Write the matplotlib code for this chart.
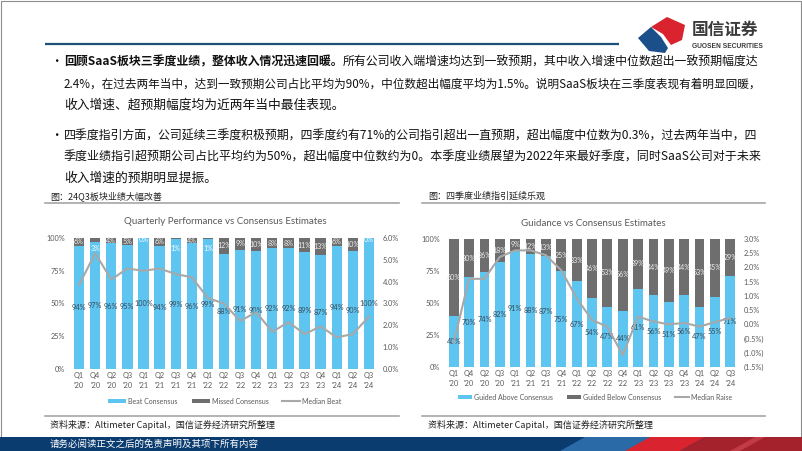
import numpy as np
import matplotlib
matplotlib.use("Agg")
import matplotlib.pyplot as plt
from matplotlib.patches import Rectangle, Polygon
from matplotlib.ticker import FuncFormatter

plt.rcParams["font.family"] = ["Lato", "DejaVu Sans"]
CJK = ["Noto Sans CJK SC", "DejaVu Sans"]

# ---- data ----
quarters = ["Q1\n'20", "Q4\n'20", "Q2\n'20", "Q3\n'20", "Q1\n'21", "Q2\n'21", "Q3\n'21",
            "Q4\n'21", "Q1\n'22", "Q2\n'22", "Q3\n'22", "Q4\n'22", "Q1\n'23", "Q2\n'23",
            "Q3\n'23", "Q4\n'23", "Q1\n'24", "Q2\n'24", "Q3\n'24"]
beat = [94, 97, 96, 95, 100, 94, 99, 96, 99, 88, 91, 90, 92, 92, 89, 87, 94, 90, 100]
missed = [6, 3, 4, 5, 0, 6, 1, 4, 1, 12, 9, 10, 8, 8, 11, 13, 6, 10, 0]
median_beat = [3.85, 5.3, 4.1, 4.6, 4.5, 4.6, 4.35, 4.2, 3.25, 3.0, 2.2, 2.6,
               1.7, 2.15, 1.6, 1.95, 1.45, 1.6, 2.4]

guided_above = [40, 70, 74, 82, 91, 88, 87, 75, 67, 54, 47, 44, 61, 56, 51, 56, 47, 55, 71]
guided_below = [60, 30, 26, 18, 9, 12, 13, 25, 33, 46, 53, 56, 39, 44, 49, 44, 53, 45, 29]
median_raise = [-0.65, 1.6, 1.6, 2.37, 2.6, 2.6, 2.43, 1.9, 0.92, 0.15, -0.08, -1.08,
                0.27, 0.1, 0.0, 0.05, -0.08, 0.08, 0.22]

para1 = [
    [("回顾SaaS板块三季度业绩，整体收入情况迅速回暖。", "bold"),
     ("所有公司收入端增速均达到一致预期，其中收入增速中位数超出一致预期幅度达", "normal")],
    [("2.4%，在过去两年当中，达到一致预期公司占比平均为90%，中位数超出幅度平均为1.5%。说明SaaS板块在三季度表现有着明显回暖，", "normal")],
    [("收入增速、超预期幅度均为近两年当中最佳表现。", "normal")],
]
para2 = [
    [("四季度指引方面，公司延续三季度积极预期，四季度约有71%的公司指引超出一直预期，超出幅度中位数为0.3%，过去两年当中，四", "normal")],
    [("季度业绩指引超预期公司占比平均约为50%，超出幅度中位数约为0。本季度业绩展望为2022年来最好季度，同时SaaS公司对于未来", "normal")],
    [("收入增速的预期明显提振。", "normal")],
]

BLUE = "#5EC4F0"
GREY = "#6E6E6E"
LINE = "#A8A8A8"
TXT = "#595959"
W, H = 802, 451

fig = plt.figure(figsize=(W / 100, H / 100), dpi=100)
bg = fig.add_axes([0, 0, 1, 1], zorder=0)
bg.set_xlim(0, W); bg.set_ylim(H, 0); bg.axis("off")
renderer = fig.canvas.get_renderer()

# slide frame, header rule and logo
bg.add_patch(Rectangle((0.5, 0.5), W - 1.5, H - 1, fill=False, ec="#8C8C8C", lw=0.8))
bg.plot([45, 619], [44, 44], color="#1F4E79", lw=1.6, solid_capstyle="butt")
bg.add_patch(Polygon([(651, 27), (667, 17), (685, 25), (682, 40), (671, 45), (663, 34)],
                     closed=True, fc="#D9232E", ec="none"))
bg.add_patch(Polygon([(638, 38), (651, 27), (661, 37), (668, 48), (665, 53), (649, 51)],
                     closed=True, fc="#1B4F8A", ec="none"))
bg.text(692, 30, "国信证券", family=CJK, fontsize=12, fontweight="bold", color="#3A3A3A",
        va="center", ha="left")
bg.text(692, 46, "GUOSEN SECURITIES", fontsize=4.8, fontweight="bold", color="#3A3A3A",
        va="center", ha="left", family=["Liberation Sans Narrow", "Liberation Sans", "DejaVu Sans"])


def put_line(y, parts, fit=None, fs=9.2, x0=64):
    arts, x = [], x0
    for s, w in parts:
        t = bg.text(x, y, s, family=CJK, fontsize=fs, fontweight=w, color="#111111",
                    va="center", ha="left")
        x += t.get_window_extent(renderer).width
        arts.append(t)
    if fit is not None and x - x0 > fit:
        for t in arts:
            t.remove()
        put_line(y, parts, None, fs * fit / (x - x0), x0)


for ys, para in [((62, 84, 105), para1), ((136, 157, 178), para2)]:
    bg.text(50, ys[0], "•", family=CJK, fontsize=9, va="center", ha="left", color="#111111")
    for k, (y, parts) in enumerate(zip(ys, para)):
        put_line(y, parts, fit=696 if k < 2 else None)

# captions, rules, sources
bg.text(50, 196, "图：24Q3板块业绩大幅改善", family=CJK, fontsize=6.5, color="#222222", va="center")
bg.text(428, 196, "图：四季度业绩指引延续乐观", family=CJK, fontsize=6.5, color="#222222", va="center")
for xa, xb in [(45, 399), (422, 765)]:
    bg.plot([xa, xb], [203, 203], color="#A6A6A6", lw=1.2)
    bg.plot([xa, xb], [416, 416], color="#A6A6A6", lw=1.2)
bg.text(50, 425, "资料来源：Altimeter Capital，国信证券经济研究所整理", family=CJK, fontsize=6.5,
        color="#222222", va="center")
bg.text(428, 425, "资料来源：Altimeter Capital，国信证券经济研究所整理", family=CJK, fontsize=6.5,
        color="#222222", va="center")

# footer band
bg.add_patch(Rectangle((0, 437), W, 14, fc="#0B3C6F", ec="none"))
bg.add_patch(Polygon([(560, 451), (585, 437), (660, 437), (635, 451)], fc="#2A6AA6", ec="none"))
bg.add_patch(Polygon([(625, 451), (650, 437), (705, 437), (680, 451)], fc="#D9232E", ec="none"))
bg.add_patch(Polygon([(680, 451), (705, 437), (W, 437), (W, 451)], fc="#A3222C", ec="none"))
bg.add_patch(Polygon([(730, 451), (755, 437), (765, 437), (740, 451)], fc="#C23A43", ec="none"))
bg.text(50, 444, "请务必阅读正文之后的免责声明及其项下所有内容", family=CJK, fontsize=6.8,
        color="white", va="center")

# chart titles
bg.text(225, 222, "Quarterly Performance vs Consensus Estimates", fontsize=7, color=TXT,
        ha="center", va="center")
bg.text(593, 223, "Guidance vs Consensus Estimates", fontsize=7, color=TXT,
        ha="center", va="center")


def pct(v, _):
    return f"{v:.0f}%"


def pct1(v, _):
    return f"({abs(v):.1f}%)" if v < -1e-9 else f"{abs(v):.1f}%"


def chart(rect, lo, hi, line, rlim, rstep, names, lg_x, lg_y, hl, cs):
    l, t, r, b = rect
    ax = fig.add_axes([l / W, 1 - b / H, (r - l) / W, (b - t) / H], zorder=2)
    x = np.arange(len(lo))
    b1 = ax.bar(x, lo, width=0.64, color=BLUE, zorder=2)
    b2 = ax.bar(x, hi, width=0.64, bottom=lo, color=GREY, zorder=2)
    for i in x:
        ax.text(i, lo[i] / 2, f"{lo[i]}%", ha="center", va="center", fontsize=5.3,
                color="#3C4B58", zorder=3)
        if hi[i] >= 4:
            ax.text(i, lo[i] + hi[i] / 2, f"{hi[i]}%", ha="center", va="center",
                    fontsize=5.1, color="#EEEEEE", zorder=3)
        else:
            ax.text(i, 92 if lo[i] < 100 else 98.5, f"{hi[i]}%", ha="center", va="center",
                    fontsize=5.1, color="white", zorder=3)
    ax.set_xlim(-0.5, len(lo) - 0.5)
    ax.set_ylim(0, 100)
    ax.set_yticks([0, 25, 50, 75, 100])
    ax.yaxis.set_major_formatter(FuncFormatter(pct))
    ax.set_xticks(x)
    ax.set_xticklabels(quarters, linespacing=1.35)
    ax.tick_params(axis="y", length=0, labelsize=5.3, colors=TXT, pad=4.5)
    ax.tick_params(axis="x", length=0, labelsize=5.3, colors=TXT, pad=2.5)
    for s in ax.spines.values():
        s.set_visible(False)
    ax2 = ax.twinx()
    ax2.set_zorder(3)
    ln, = ax2.plot(x, line, color=LINE, lw=1.5, zorder=4)
    ax2.set_ylim(*rlim)
    ax2.set_yticks(np.arange(rlim[0], rlim[1] + 1e-9, rstep))
    ax2.yaxis.set_major_formatter(FuncFormatter(pct1))
    ax2.tick_params(axis="y", length=0, labelsize=5.3, colors=TXT, pad=4)
    for s in ax2.spines.values():
        s.set_visible(False)
    fig.legend([b1, b2, ln], names, loc="center", bbox_to_anchor=(lg_x / W, 1 - lg_y / H),
               ncol=3, frameon=False, fontsize=5.0, handlelength=hl, handleheight=0.55,
               columnspacing=cs, handletextpad=0.3, labelcolor=TXT)


chart((71, 238, 377, 369), beat, missed, median_beat, (0, 6), 1.0,
      ["Beat Consensus", "Missed Consensus", "Median Beat"], 225, 401, 2.6, 2.0)
chart((446, 239, 738, 367), guided_above, guided_below, median_raise, (-1.5, 3.0), 0.5,
      ["Guided Above Consensus", "Guided Below Consensus", "Median Raise"], 595, 397, 2.0, 2.0)

fig.savefig("out.png", dpi=100)
